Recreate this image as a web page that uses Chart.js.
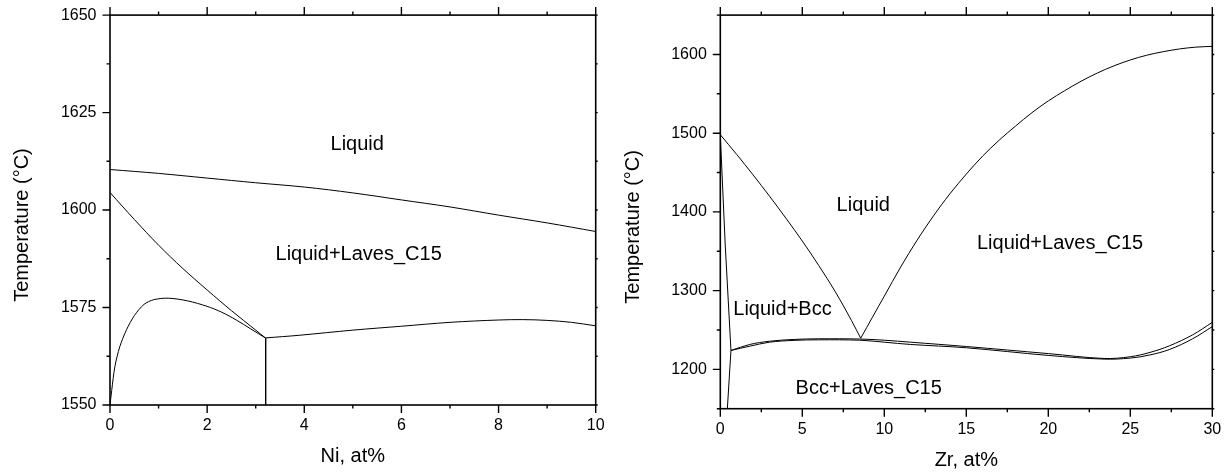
<!DOCTYPE html>
<html>
<head>
<meta charset="utf-8">
<script src="https://cdn.jsdelivr.net/npm/chart.js@4.4.1/dist/chart.umd.min.js"></script>
<style>
  body { margin: 0; background: #fff; }
  #niChart { position: absolute; left: 0; top: 0; }
  #zrChart { position: absolute; left: 615px; top: 0; }
</style>
</head>
<body>
<canvas id="niChart" width="615" height="473"></canvas>
<canvas id="zrChart" width="616" height="473"></canvas>
<script>
// ---- left diagram: Ni, at% ----
const niTicks = [0, 2, 4, 6, 8, 10];
const niMinor = [1, 3, 5, 7, 9];
const tempTicksNi = [1550, 1575, 1600, 1625, 1650];
const tempMinorNi = [1562.5, 1587.5, 1612.5, 1637.5];

// liquid / liquid+laves boundary
const liqTopNi = [0, 1, 2, 3, 4, 5, 6, 7, 8, 9, 10];
const liqTopT = [1610.4, 1609.4, 1608.2, 1607.0, 1605.9, 1604.4, 1602.6, 1600.8, 1598.7, 1596.7, 1594.5];
// left branch down to the eutectic
const lavesLiqNi = [0, 0.5, 1, 1.5, 2, 2.5, 3, 3.2];
const lavesLiqT = [1604.5, 1597.6, 1591.0, 1585.0, 1579.5, 1574.2, 1569.2, 1567.2];
// dome from the origin
const domeNi = [0, 0.035, 0.1, 0.2, 0.34, 0.5, 0.7, 0.9, 1.2, 1.6, 2.0, 2.3, 2.6, 2.9, 3.2];
const domeT = [1550, 1553.7, 1559.8, 1564.9, 1569.3, 1572.9, 1575.8, 1577.0, 1577.4, 1576.7, 1575.3, 1573.8, 1571.8, 1569.5, 1567.2];
// vertical line under the eutectic
const vertNi = [3.205, 3.205];
const vertT = [1567.2, 1550];
// right branch
const lowNi = [3.2, 3.91, 5, 6, 7, 8, 8.5, 9, 9.5, 10];
const lowT = [1567.2, 1567.9, 1569.2, 1570.2, 1571.2, 1571.8, 1571.9, 1571.7, 1571.2, 1570.3];

const niLabels = ['Liquid', 'Liquid+Laves_C15'];
const niLabelX = [5.09, 5.12];
const niLabelT = [1615.5, 1587.3];

// ---- right diagram: Zr, at% ----
const zrTicks = [0, 5, 10, 15, 20, 25, 30];
const zrMinor = [2.5, 7.5, 12.5, 17.5, 22.5, 27.5];
const tempTicksZr = [1200, 1300, 1400, 1500, 1600];
const tempMinorZr = [1150, 1250, 1350, 1450, 1550, 1650];

const solidusZr = [0, 0.3, 0.65];
const solidusT = [1498, 1358, 1224];
const solvusZr = [0.65, 0.43];
const solvusT = [1224, 1150];
const liqLeftZr = [0, 1, 2, 3, 4, 5, 6, 7, 8, 8.56];
const liqLeftT = [1498, 1473, 1447, 1420, 1392, 1363, 1332, 1299, 1262, 1239.5];
const liqRightZr = [8.56, 10, 11, 12, 13, 14, 15, 16, 17, 18, 19, 20, 21, 22, 23, 24, 25, 26, 27, 28, 29, 30];
const liqRightT = [1239.5, 1293, 1330, 1364, 1395, 1423, 1448, 1471, 1491, 1509, 1526, 1541, 1554, 1566, 1576.5, 1585.5, 1593, 1599, 1603.5, 1607, 1609.3, 1610.3];
// the two nearly coincident lines
const pairZr = [0.65, 1.8, 3, 4.5, 6, 8.5, 10, 11.6, 15, 20, 23.4, 25, 26.2, 27.4, 28.8, 30];
const upperT = [1224, 1231.6, 1235.7, 1238, 1238.8, 1238.5, 1237, 1234.5, 1229, 1220, 1213.8, 1216, 1221.5, 1230, 1243.8, 1259.7];
const lowerT = [1224, 1229.4, 1234.5, 1236.8, 1237.5, 1237, 1234.5, 1231.6, 1227.4, 1217.7, 1213, 1214.3, 1218.3, 1225.3, 1238.8, 1254.3];

const zrLabels = ['Liquid', 'Liquid+Bcc', 'Liquid+Laves_C15', 'Bcc+Laves_C15'];
const zrLabelX = [8.72, 3.79, 20.72, 9.05];
const zrLabelT = [1401.5, 1268.5, 1352.3, 1168.2];

const fontFamily = "'Liberation Sans', Arial, sans-serif";
Chart.defaults.font.family = fontFamily;
Chart.defaults.color = '#000';

function toPoints(xs, ys) {
  let pts = [];
  for (let i = 0; i < xs.length; i++) {
    pts.push({x: xs[i], y: ys[i]});
  }
  return pts;
}
function curve(xs, ys, tension = 0.35) {
  return {
    data: toPoints(xs, ys),
    showLine: true,
    borderColor: '#000',
    borderWidth: 1,
    pointRadius: 0,
    tension: tension,
    fill: false,
  };
}

// frame, tick marks, region names and the rotated y title
const axisFrame = {
  id: 'axisFrame',
  afterDraw(chart, args, o) {
    const {ctx, chartArea: a} = chart;
    const xs = chart.scales.x;
    const ys = chart.scales.y;
    ctx.save();
    ctx.strokeStyle = '#000';
    ctx.lineWidth = 1.6;
    ctx.strokeRect(a.left, a.top, a.right - a.left, a.bottom - a.top);
    ctx.lineWidth = 1.4;
    ctx.beginPath();
    function xTick(v, len) {
      let p = xs.getPixelForValue(v);
      ctx.moveTo(p, a.bottom); ctx.lineTo(p, a.bottom + len);
      ctx.moveTo(p, a.top); ctx.lineTo(p, a.top - len);
    }
    function yTick(v, len) {
      let p = ys.getPixelForValue(v);
      ctx.moveTo(a.left, p); ctx.lineTo(a.left - len, p);
      ctx.moveTo(a.right, p); ctx.lineTo(a.right + 2, p);
    }
    o.xMajor.forEach(v => xTick(v, 8));
    o.xMinor.forEach(v => xTick(v, 3.5));
    o.yMajor.forEach(v => yTick(v, 7.5));
    o.yMinor.forEach(v => yTick(v, 3.5));
    ctx.stroke();

    ctx.fillStyle = '#000';
    ctx.font = '20px ' + fontFamily;
    ctx.textAlign = 'center';
    ctx.textBaseline = 'alphabetic';
    for (let i = 0; i < o.labels.length; i++) {
      ctx.fillText(o.labels[i], xs.getPixelForValue(o.labelX[i]), ys.getPixelForValue(o.labelY[i]));
    }
    // y title sits a little below the middle of the axis
    ctx.translate(a.left - 81.6, (a.top + a.bottom) / 2 + 15);
    ctx.rotate(-Math.PI / 2);
    ctx.fillText('Temperature (\u00B0C)', 0, 0);
    ctx.restore();
  }
};

function makeDiagram(id, cfg) {
  const ctx = document.getElementById(id).getContext('2d');
  return new Chart(ctx, {
    type: 'scatter',
    data: {datasets: cfg.datasets},
    plugins: [axisFrame],
    options: {
      responsive: false,
      devicePixelRatio: 1,
      animation: false,
      events: [],
      layout: {padding: cfg.padding},
      plugins: {
        legend: {display: false},
        tooltip: {enabled: false},
        axisFrame: cfg.frame,
      },
      scales: {
        x: {
          type: 'linear',
          min: cfg.xMin, max: cfg.xMax,
          afterBuildTicks: s => { s.ticks = cfg.xTicks.map(v => ({value: v})); },
          afterFit: s => { s.height = cfg.xHeight; },
          grid: {display: true, drawOnChartArea: false, color: 'rgba(0,0,0,0)', tickLength: 8},
          border: {display: false},
          ticks: {font: {size: 16}, padding: 3, maxRotation: 0, callback: v => String(v)},
          title: {display: true, text: cfg.xTitle, font: {size: 20}, padding: {top: 0, bottom: cfg.xTitlePad}},
        },
        y: {
          type: 'linear',
          min: cfg.yMin, max: cfg.yMax,
          afterBuildTicks: s => { s.ticks = cfg.yTicks.map(v => ({value: v})); },
          afterFit: s => { s.width = cfg.yWidth; },
          grid: {display: true, drawOnChartArea: false, color: 'rgba(0,0,0,0)', tickLength: 8},
          border: {display: false},
          ticks: {font: {size: 16}, padding: 5.5, callback: v => String(v)},
        }
      }
    }
  });
}

makeDiagram('niChart', {
  datasets: [
    curve(liqTopNi, liqTopT),
    curve(lavesLiqNi, lavesLiqT),
    curve(domeNi, domeT, 0.3),
    curve(vertNi, vertT, 0),
    curve(lowNi, lowT),
  ],
  padding: {top: 14.5, right: 19.3, bottom: 0, left: 0},
  xMin: 0, xMax: 10, yMin: 1550, yMax: 1650,
  xTicks: niTicks, yTicks: tempTicksNi,
  xHeight: 68, yWidth: 110,
  xTitle: 'Ni, at%', xTitlePad: 4.6,
  frame: {xMajor: niTicks, xMinor: niMinor, yMajor: tempTicksNi, yMinor: tempMinorNi,
    labels: niLabels, labelX: niLabelX, labelY: niLabelT},
});

makeDiagram('zrChart', {
  datasets: [
    curve(solidusZr, solidusT, 0),
    curve(solvusZr, solvusT, 0),
    curve(liqLeftZr, liqLeftT),
    curve(liqRightZr, liqRightT),
    curve(pairZr, upperT),
    curve(pairZr, lowerT),
  ],
  padding: {top: 12.3, right: 18.7, bottom: 0, left: 0},
  xMin: 0, xMax: 30, yMin: 1150, yMax: 1650,
  xTicks: zrTicks, yTicks: tempTicksZr,
  xHeight: 64.3, yWidth: 105.3,
  xTitle: 'Zr, at%', xTitlePad: 0.2,
  frame: {xMajor: zrTicks, xMinor: zrMinor, yMajor: tempTicksZr, yMinor: tempMinorZr,
    labels: zrLabels, labelX: zrLabelX, labelY: zrLabelT},
});
</script>
</body>
</html>
